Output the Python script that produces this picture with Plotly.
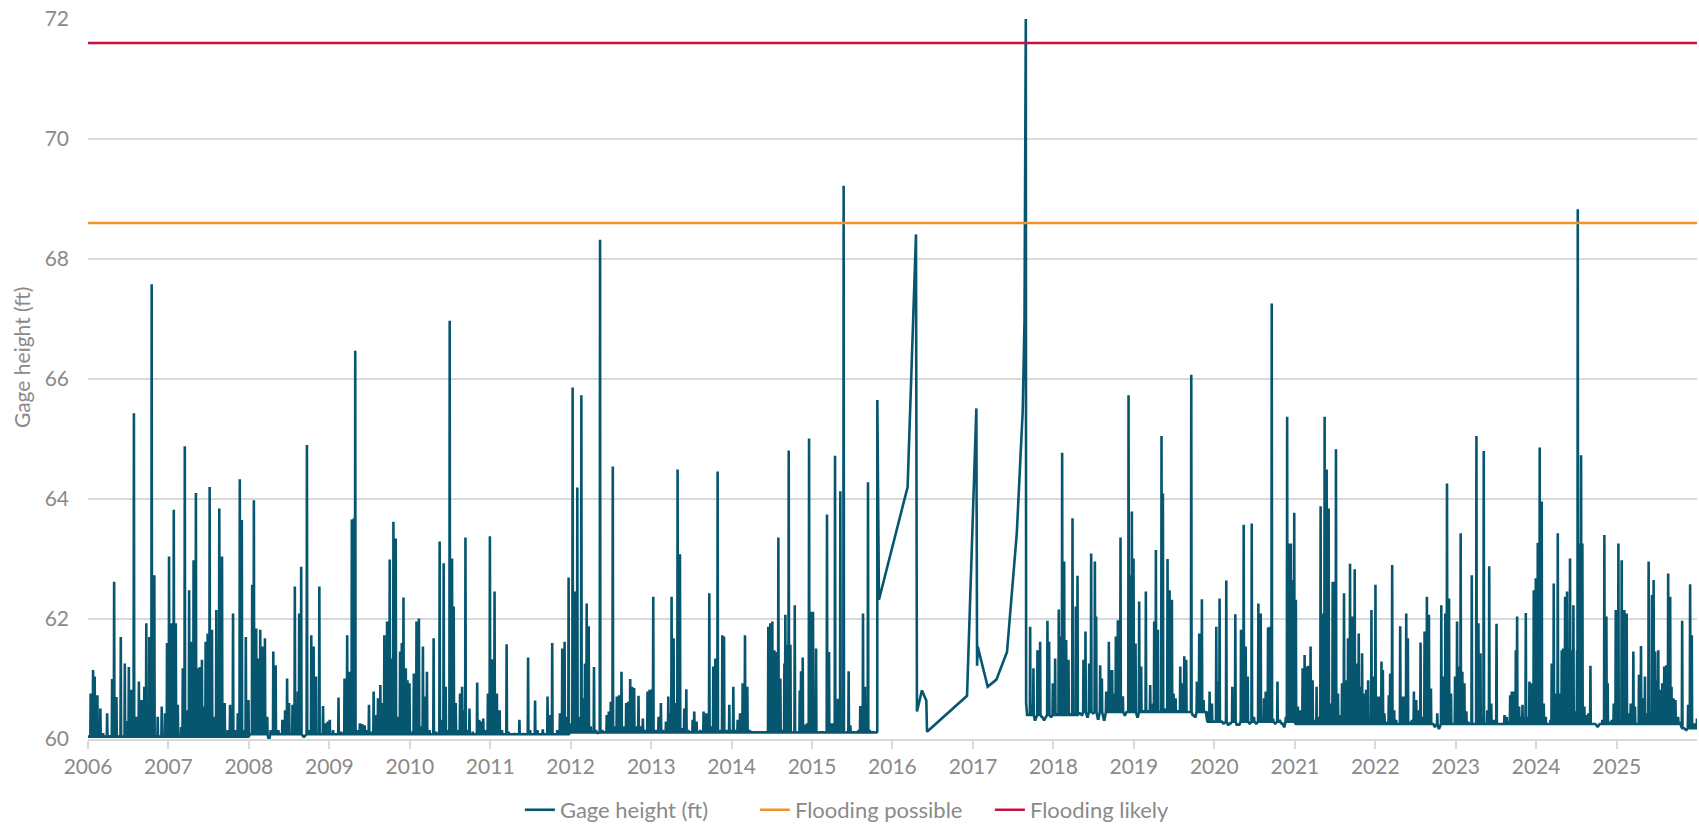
import datetime as dt
import plotly.graph_objects as go

# ---- Data (decimal year, gage height in ft) ----
gage_year = [
    2006.000, 2006.033, 2006.063, 2006.083, 2006.117, 2006.154, 2006.188, 2006.238, 2006.271, 2006.300,
    2006.325, 2006.354, 2006.379, 2006.408, 2006.458, 2006.483, 2006.508, 2006.542, 2006.571, 2006.604,
    2006.633, 2006.667, 2006.700, 2006.725, 2006.763, 2006.775, 2006.792, 2006.825, 2006.842, 2006.867,
    2006.892, 2006.917, 2006.958, 2006.983, 2007.008, 2007.042, 2007.067, 2007.092, 2007.117, 2007.158,
    2007.179, 2007.204, 2007.229, 2007.258, 2007.283, 2007.313, 2007.342, 2007.367, 2007.392, 2007.417,
    2007.442, 2007.463, 2007.488, 2007.513, 2007.542, 2007.567, 2007.596, 2007.633, 2007.667, 2007.700,
    2007.738, 2007.767, 2007.804, 2007.838, 2007.863, 2007.888, 2007.913, 2007.942, 2007.963, 2007.996,
    2008.017, 2008.042, 2008.063, 2008.092, 2008.117, 2008.142, 2008.167, 2008.200, 2008.229, 2008.250,
    2008.271, 2008.304, 2008.333, 2008.367, 2008.417, 2008.450, 2008.475, 2008.500, 2008.542, 2008.571,
    2008.608, 2008.625, 2008.650, 2008.683, 2008.721, 2008.750, 2008.775, 2008.804, 2008.833, 2008.875,
    2008.921, 2008.950, 2008.979, 2009.004, 2009.046, 2009.079, 2009.113, 2009.146, 2009.188, 2009.221,
    2009.250, 2009.279, 2009.304, 2009.321, 2009.346, 2009.379, 2009.408, 2009.438, 2009.471, 2009.492,
    2009.521, 2009.550, 2009.579, 2009.604, 2009.633, 2009.658, 2009.683, 2009.717, 2009.733, 2009.750,
    2009.771, 2009.796, 2009.825, 2009.854, 2009.879, 2009.900, 2009.921, 2009.950, 2009.971, 2009.996,
    2010.021, 2010.050, 2010.083, 2010.113, 2010.138, 2010.163, 2010.188, 2010.213, 2010.246, 2010.296,
    2010.329, 2010.371, 2010.396, 2010.421, 2010.446, 2010.475, 2010.496, 2010.525, 2010.546, 2010.571,
    2010.596, 2010.625, 2010.650, 2010.667, 2010.692, 2010.717, 2010.742, 2010.783, 2010.838, 2010.863,
    2010.888, 2010.913, 2010.938, 2010.971, 2010.996, 2011.021, 2011.054, 2011.083, 2011.117, 2011.146,
    2011.179, 2011.204, 2011.229, 2011.304, 2011.363, 2011.408, 2011.471, 2011.496, 2011.558, 2011.588,
    2011.654, 2011.713, 2011.742, 2011.771, 2011.834, 2011.867, 2011.896, 2011.925, 2011.950, 2011.975,
    2012.000, 2012.025, 2012.050, 2012.083, 2012.108, 2012.133, 2012.154, 2012.178, 2012.199, 2012.224,
    2012.249, 2012.290, 2012.315, 2012.340, 2012.365, 2012.394, 2012.448, 2012.473, 2012.498, 2012.523,
    2012.544, 2012.573, 2012.602, 2012.631, 2012.656, 2012.689, 2012.714, 2012.739, 2012.763, 2012.788,
    2012.813, 2012.842, 2012.871, 2012.896, 2012.925, 2012.954, 2012.979, 2013.008, 2013.025, 2013.054,
    2013.091, 2013.120, 2013.145, 2013.183, 2013.212, 2013.232, 2013.253, 2013.278, 2013.303, 2013.328,
    2013.357, 2013.382, 2013.411, 2013.436, 2013.461, 2013.515, 2013.535, 2013.564, 2013.610, 2013.651,
    2013.685, 2013.722, 2013.743, 2013.772, 2013.797, 2013.826, 2013.855, 2013.884, 2013.905, 2013.934,
    2013.971, 2013.996, 2014.021, 2014.041, 2014.075, 2014.104, 2014.137, 2014.166, 2014.195, 2014.220,
    2014.241, 2014.448, 2014.456, 2014.481, 2014.506, 2014.531, 2014.556, 2014.581, 2014.606, 2014.631,
    2014.656, 2014.668, 2014.689, 2014.710, 2014.731, 2014.752, 2014.785, 2014.814, 2014.847, 2014.863,
    2014.884, 2014.905, 2014.938, 2014.963, 2014.988, 2015.012, 2015.029, 2015.050, 2015.075, 2015.153,
    2015.186, 2015.211, 2015.236, 2015.261, 2015.286, 2015.311, 2015.323, 2015.352, 2015.369, 2015.393,
    2015.418, 2015.455, 2015.476, 2015.538, 2015.580, 2015.600, 2015.634, 2015.658, 2015.675, 2015.696,
    2015.716, 2015.787, 2015.807, 2015.812, 2015.832, 2016.188, 2016.292, 2016.304, 2016.366, 2016.420,
    2016.429, 2016.925, 2017.041, 2017.050, 2017.058, 2017.182, 2017.290, 2017.422, 2017.544, 2017.618,
    2017.640, 2017.656, 2017.660, 2017.676, 2017.710, 2017.730, 2017.751, 2017.772, 2017.801, 2017.834,
    2017.855, 2017.884, 2017.925, 2017.946, 2017.971, 2017.992, 2018.021, 2018.046, 2018.066, 2018.083,
    2018.108, 2018.133, 2018.158, 2018.187, 2018.207, 2018.237, 2018.257, 2018.278, 2018.299, 2018.324,
    2018.353, 2018.373, 2018.398, 2018.423, 2018.444, 2018.469, 2018.494, 2018.515, 2018.531, 2018.556,
    2018.581, 2018.602, 2018.631, 2018.656, 2018.689, 2018.705, 2018.730, 2018.755, 2018.776, 2018.801,
    2018.834, 2018.863, 2018.888, 2018.913, 2018.934, 2018.954, 2018.975, 2018.996, 2019.021, 2019.046,
    2019.066, 2019.091, 2019.120, 2019.149, 2019.174, 2019.203, 2019.224, 2019.253, 2019.274, 2019.299,
    2019.320, 2019.344, 2019.361, 2019.378, 2019.398, 2019.419, 2019.444, 2019.473, 2019.494, 2019.519,
    2019.544, 2019.577, 2019.602, 2019.627, 2019.651, 2019.680, 2019.714, 2019.734, 2019.763, 2019.784,
    2019.813, 2019.846, 2019.867, 2019.892, 2019.917, 2019.942, 2019.971, 2020.000, 2020.025, 2020.046,
    2020.066, 2020.091, 2020.116, 2020.149, 2020.174, 2020.199, 2020.224, 2020.261, 2020.282, 2020.307,
    2020.332, 2020.365, 2020.390, 2020.415, 2020.440, 2020.465, 2020.493, 2020.522, 2020.547, 2020.576,
    2020.597, 2020.617, 2020.638, 2020.667, 2020.688, 2020.713, 2020.730, 2020.755, 2020.784, 2020.813,
    2020.838, 2020.867, 2020.888, 2020.904, 2020.925, 2020.950, 2020.971, 2020.992, 2021.012, 2021.037,
    2021.062, 2021.096, 2021.121, 2021.146, 2021.170, 2021.195, 2021.220, 2021.245, 2021.270, 2021.295,
    2021.320, 2021.345, 2021.370, 2021.395, 2021.420, 2021.445, 2021.470, 2021.495, 2021.511, 2021.536,
    2021.561, 2021.586, 2021.611, 2021.636, 2021.661, 2021.686, 2021.711, 2021.744, 2021.769, 2021.794,
    2021.819, 2021.836, 2021.865, 2021.886, 2021.911, 2021.927, 2021.952, 2021.977, 2022.002, 2022.027,
    2022.052, 2022.077, 2022.094, 2022.114, 2022.143, 2022.168, 2022.185, 2022.210, 2022.235, 2022.260,
    2022.281, 2022.310, 2022.335, 2022.360, 2022.385, 2022.405, 2022.426, 2022.455, 2022.480, 2022.509,
    2022.534, 2022.563, 2022.584, 2022.613, 2022.642, 2022.667, 2022.692, 2022.717, 2022.742, 2022.771,
    2022.792, 2022.821, 2022.846, 2022.871, 2022.892, 2022.917, 2022.942, 2022.967, 2022.992, 2023.017,
    2023.042, 2023.062, 2023.083, 2023.108, 2023.133, 2023.158, 2023.175, 2023.200, 2023.225, 2023.258,
    2023.283, 2023.308, 2023.333, 2023.349, 2023.393, 2023.417, 2023.442, 2023.471, 2023.492, 2023.508,
    2023.533, 2023.574, 2023.607, 2023.636, 2023.657, 2023.678, 2023.698, 2023.723, 2023.748, 2023.764,
    2023.789, 2023.814, 2023.831, 2023.847, 2023.872, 2023.893, 2023.917, 2023.946, 2023.971, 2023.996,
    2024.021, 2024.045, 2024.070, 2024.095, 2024.120, 2024.153, 2024.178, 2024.194, 2024.219, 2024.244,
    2024.269, 2024.293, 2024.318, 2024.335, 2024.360, 2024.384, 2024.401, 2024.421, 2024.442, 2024.463,
    2024.483, 2024.508, 2024.517, 2024.541, 2024.558, 2024.574, 2024.599, 2024.624, 2024.649, 2024.674,
    2024.698, 2024.731, 2024.764, 2024.793, 2024.822, 2024.847, 2024.872, 2024.888, 2024.917, 2024.938,
    2024.963, 2024.988, 2025.008, 2025.021, 2025.041, 2025.062, 2025.095, 2025.124, 2025.145, 2025.174,
    2025.207, 2025.227, 2025.252, 2025.277, 2025.302, 2025.326, 2025.351, 2025.376, 2025.397, 2025.417,
    2025.438, 2025.459, 2025.479, 2025.500, 2025.517, 2025.541, 2025.566, 2025.591, 2025.616, 2025.640,
    2025.665, 2025.682, 2025.707, 2025.731, 2025.764, 2025.789, 2025.814, 2025.835, 2025.864, 2025.888,
    2025.913, 2025.934, 2025.955, 2025.979, 2025.998,
]

gage_ft = [
    60.05, 60.76, 61.15, 61.04, 60.73, 60.51, 60.10, 60.43, 60.06, 61.00,
    62.62, 60.70, 60.04, 61.70, 61.26, 60.30, 61.20, 60.82, 65.43, 60.37,
    60.96, 60.65, 60.87, 61.93, 61.70, 60.10, 67.58, 62.73, 60.05, 60.37,
    60.05, 60.54, 60.43, 61.60, 63.04, 61.93, 63.82, 61.93, 60.57, 60.20,
    61.18, 64.88, 60.48, 62.48, 61.62, 62.98, 64.10, 61.18, 61.20, 61.32,
    60.54, 61.62, 61.76, 64.20, 61.82, 60.37, 62.15, 63.84, 63.04, 60.60,
    60.15, 60.57, 62.09, 60.15, 60.43, 64.33, 63.65, 60.15, 61.70, 60.65,
    60.10, 62.57, 63.98, 61.84, 61.34, 61.82, 61.54, 61.68, 60.37, 60.00,
    60.15, 61.46, 61.23, 60.15, 60.32, 60.48, 61.01, 60.60, 60.57, 62.54,
    60.79, 62.09, 62.87, 60.04, 64.90, 60.15, 61.73, 61.54, 61.04, 62.54,
    60.55, 60.26, 60.29, 60.32, 60.15, 60.08, 60.69, 60.12, 61.01, 61.73,
    61.12, 63.66, 63.68, 66.47, 60.15, 60.26, 60.25, 60.23, 60.15, 60.57,
    60.12, 60.79, 60.40, 60.68, 60.90, 60.60, 61.73, 61.96, 61.40, 62.99,
    61.34, 63.62, 63.34, 60.37, 61.46, 61.60, 62.36, 61.18, 60.98, 60.93,
    60.12, 61.09, 61.96, 62.01, 60.21, 61.54, 60.71, 61.12, 60.15, 61.68,
    60.12, 63.29, 60.32, 62.93, 60.87, 60.15, 66.97, 63.01, 62.21, 60.60,
    60.15, 60.76, 60.87, 60.48, 63.36, 60.15, 60.51, 60.12, 60.94, 60.32,
    60.29, 60.34, 60.15, 60.76, 63.38, 61.33, 62.46, 60.76, 60.48, 60.15,
    60.08, 61.58, 60.12, 60.10, 60.32, 60.10, 61.36, 60.15, 60.64, 60.15,
    60.16, 60.71, 60.40, 61.60, 60.15, 60.43, 61.51, 61.62, 60.37, 62.69,
    60.26, 65.86, 62.46, 64.19, 60.37, 65.73, 60.68, 61.26, 62.26, 61.88,
    60.21, 61.20, 60.15, 60.10, 68.32, 60.15, 60.40, 60.46, 60.62, 64.54,
    60.21, 60.71, 60.73, 61.12, 60.21, 60.60, 60.62, 61.00, 60.87, 60.85,
    60.21, 60.72, 60.21, 60.34, 60.15, 60.79, 60.82, 60.83, 62.37, 60.15,
    60.37, 60.60, 60.15, 60.29, 60.71, 60.43, 62.37, 61.68, 60.60, 64.49,
    63.08, 60.18, 60.51, 60.83, 60.15, 60.32, 60.46, 60.29, 60.15, 60.46,
    60.43, 62.43, 60.21, 61.21, 61.34, 64.46, 60.15, 61.73, 61.71, 60.15,
    60.57, 60.15, 60.87, 60.15, 60.32, 60.43, 60.93, 61.73, 60.87, 60.15,
    60.13, 60.13, 61.87, 61.93, 61.96, 61.48, 61.45, 63.36, 61.01, 60.15,
    61.26, 62.07, 61.57, 64.81, 61.57, 60.12, 62.23, 60.12, 60.81, 61.13,
    61.36, 60.24, 60.26, 65.01, 62.12, 62.12, 60.69, 61.51, 60.12, 60.12,
    63.74, 61.45, 60.26, 60.26, 64.72, 60.26, 60.67, 64.13, 60.12, 69.22,
    60.12, 61.13, 60.23, 60.12, 60.15, 60.55, 62.09, 60.87, 60.12, 64.28,
    60.15, 60.12, 60.12, 65.65, 62.32, 64.20, 68.41, 60.46, 60.81, 60.64,
    60.12, 60.72, 65.51, 61.22, 61.54, 60.87, 60.99, 61.45, 63.43, 65.48,
    67.00, 72.00, 60.60, 60.40, 61.87, 60.57, 61.18, 60.32, 61.48, 61.62,
    60.37, 60.32, 61.97, 61.62, 60.37, 60.93, 61.34, 60.43, 62.16, 61.71,
    64.77, 62.96, 61.65, 61.32, 60.43, 63.68, 60.43, 62.21, 62.72, 60.43,
    60.40, 61.32, 61.79, 60.37, 61.26, 63.09, 60.43, 62.96, 62.04, 60.34,
    61.23, 61.01, 60.32, 60.79, 61.62, 61.15, 61.15, 60.76, 61.71, 61.98,
    63.36, 60.71, 60.40, 60.46, 65.73, 62.73, 63.79, 63.01, 61.59, 60.37,
    62.29, 61.21, 60.48, 62.46, 60.48, 60.90, 60.59, 61.96, 63.15, 61.82,
    60.46, 65.05, 64.09, 60.48, 60.51, 63.00, 62.48, 62.32, 60.76, 60.68,
    60.48, 61.21, 60.93, 61.38, 61.32, 60.46, 66.07, 60.40, 60.37, 60.96,
    61.76, 62.33, 60.65, 60.46, 60.46, 60.79, 60.59, 60.29, 61.87, 60.96,
    62.34, 60.29, 60.26, 62.64, 60.24, 60.26, 60.87, 62.08, 60.24, 60.24,
    61.82, 63.57, 61.54, 61.04, 60.26, 63.59, 60.37, 60.26, 62.26, 62.09,
    60.37, 60.68, 60.79, 61.86, 61.87, 67.26, 60.34, 60.26, 60.96, 60.32,
    60.26, 60.21, 60.37, 65.37, 63.26, 63.26, 62.65, 63.77, 62.32, 60.54,
    60.48, 61.18, 61.40, 61.21, 61.22, 61.54, 60.98, 60.32, 60.87, 60.37,
    63.88, 62.09, 65.37, 64.49, 63.84, 60.59, 62.62, 62.62, 64.83, 60.76,
    60.40, 60.93, 62.43, 60.98, 61.68, 62.92, 62.04, 62.83, 61.26, 61.76,
    60.87, 61.43, 60.76, 60.82, 60.98, 60.37, 62.15, 61.04, 62.57, 60.71,
    60.71, 61.29, 61.15, 60.43, 60.29, 60.73, 61.09, 62.90, 60.48, 60.32,
    60.26, 61.88, 60.71, 60.71, 62.09, 61.68, 60.29, 60.32, 60.79, 60.65,
    60.48, 61.61, 60.37, 61.79, 62.37, 62.07, 60.84, 60.26, 60.21, 60.43,
    60.18, 62.23, 61.04, 62.09, 64.26, 62.34, 60.76, 60.26, 61.04, 61.96,
    61.21, 63.43, 61.12, 60.93, 60.46, 60.29, 60.26, 62.73, 60.26, 65.05,
    61.93, 61.43, 60.37, 64.80, 60.48, 62.88, 60.59, 60.32, 60.26, 61.92,
    60.26, 60.26, 60.40, 60.37, 60.29, 60.73, 60.79, 60.79, 61.48, 62.04,
    60.54, 60.37, 60.57, 60.37, 62.10, 60.37, 60.96, 60.93, 62.48, 62.68,
    63.27, 64.86, 63.96, 60.59, 60.37, 60.26, 60.32, 61.26, 62.59, 60.76,
    63.43, 60.76, 61.48, 61.51, 62.37, 62.46, 61.51, 63.01, 61.48, 62.23,
    60.46, 61.48, 68.83, 63.26, 64.73, 63.26, 60.54, 60.40, 60.43, 61.22,
    60.26, 60.26, 60.21, 60.26, 60.32, 63.40, 62.04, 60.93, 60.29, 60.32,
    60.59, 62.15, 62.15, 63.26, 60.26, 62.98, 62.15, 62.09, 60.43, 60.59,
    61.46, 60.54, 60.26, 61.07, 61.55, 60.68, 61.04, 60.43, 62.96, 60.46,
    62.40, 62.65, 61.46, 60.98, 61.48, 60.82, 60.93, 61.21, 61.23, 62.76,
    62.37, 60.87, 60.68, 60.65, 60.37, 60.29, 61.97, 60.18, 60.15, 60.57,
    62.58, 61.73, 60.26, 60.26, 60.34,
]

# Low-flow baseline level (step: level applies from that year on)
base_from_year = [2006.0, 2008.0, 2012.0, 2017.66, 2018.3, 2019.9, 2021.0, 2025.8]
base_level_ft = [60.04, 60.08, 60.11, 60.40, 60.45, 60.29, 60.25, 60.18]

# Period with sparse records (points joined directly, as in the source chart)
sparse_from_year = 2015.812
sparse_to_year = 2017.660

flood_possible_ft = 68.6
flood_likely_ft = 71.6
x_start = "2006-01-01"
x_end = "2025-12-31 12:00"
year_ticks = list(range(2006, 2026))
y_ticks = [60, 62, 64, 66, 68, 70, 72]


def to_datetime(y):
    yr = int(y)
    start = dt.datetime(yr, 1, 1)
    end = dt.datetime(yr + 1, 1, 1)
    return start + (end - start) * (y - yr)


def base_at(y):
    lvl = base_level_ft[0]
    for f, b in zip(base_from_year, base_level_ft):
        if y >= f:
            lvl = b
    return lvl


# Each daily reading rises from and returns to the low-flow baseline
half = dt.timedelta(days=1.5)
xs, ys = [], []
for yv, h in zip(gage_year, gage_ft):
    t = to_datetime(yv)
    if sparse_from_year <= yv <= sparse_to_year:
        xs.append(t)
        ys.append(h)
        continue
    b = min(base_at(yv), h)
    xs += [t - half, t, t + half]
    ys += [b, h, b]

BLUE = "#07566f"
ORANGE = "#f0912a"
RED = "#c9123f"
GRID = "#d9d9d9"
TXT = "#8a8a8a"
FONT = "Lato"

fig = go.Figure()
fig.add_trace(go.Scatter(
    x=xs, y=ys, mode="lines", name="Gage height (ft)",
    line=dict(color=BLUE, width=2.6),
))
fig.add_trace(go.Scatter(
    x=[x_start, x_end], y=[flood_possible_ft] * 2, mode="lines",
    name="Flooding possible", line=dict(color=ORANGE, width=2.5),
))
fig.add_trace(go.Scatter(
    x=[x_start, x_end], y=[flood_likely_ft] * 2, mode="lines",
    name="Flooding likely", line=dict(color=RED, width=2.5),
))

fig.update_layout(
    width=1699, height=827,
    margin=dict(l=88, r=2, t=19, b=88, autoexpand=False),
    paper_bgcolor="white", plot_bgcolor="white",
    font=dict(family=FONT, color=TXT),
    showlegend=True,
    legend=dict(
        orientation="h", xref="container", yref="container",
        x=0.306, xanchor="left", y=0.0206, yanchor="middle",
        font=dict(size=22, color=TXT, family=FONT),
        itemwidth=30, traceorder="normal",
        entrywidth=190, entrywidthmode="pixels",
    ),
    xaxis=dict(
        type="date", range=[x_start, x_end], automargin=False,
        tickvals=[f"{y}-01-01" for y in year_ticks],
        ticktext=[str(y) for y in year_ticks],
        showgrid=False, showline=True, linecolor=GRID, linewidth=2,
        ticks="outside", ticklen=8, tickwidth=2, tickcolor=GRID,
        tickfont=dict(size=21, color=TXT, family=FONT),
        zeroline=False,
    ),
    yaxis=dict(
        range=[60, 72], tickvals=y_ticks, automargin=False,
        showgrid=True, gridcolor=GRID, gridwidth=2,
        zeroline=False, showline=False, ticks="",
        ticklabelstandoff=18, ticklabeloverflow="allow",
        tickfont=dict(size=21, color=TXT, family=FONT),
    ),
    annotations=[dict(
        text="Gage height (ft)", xref="paper", yref="paper",
        x=-0.0412, y=0.53, xanchor="center", yanchor="middle",
        textangle=-90, showarrow=False,
        font=dict(size=21, color=TXT, family=FONT),
    )],
)

# Remove the browser's default page margin so the figure fills the window exactly
fig.write_html(
    "out.html",
    config={"displayModeBar": False},
    post_script="document.body.style.margin='0';",
)
